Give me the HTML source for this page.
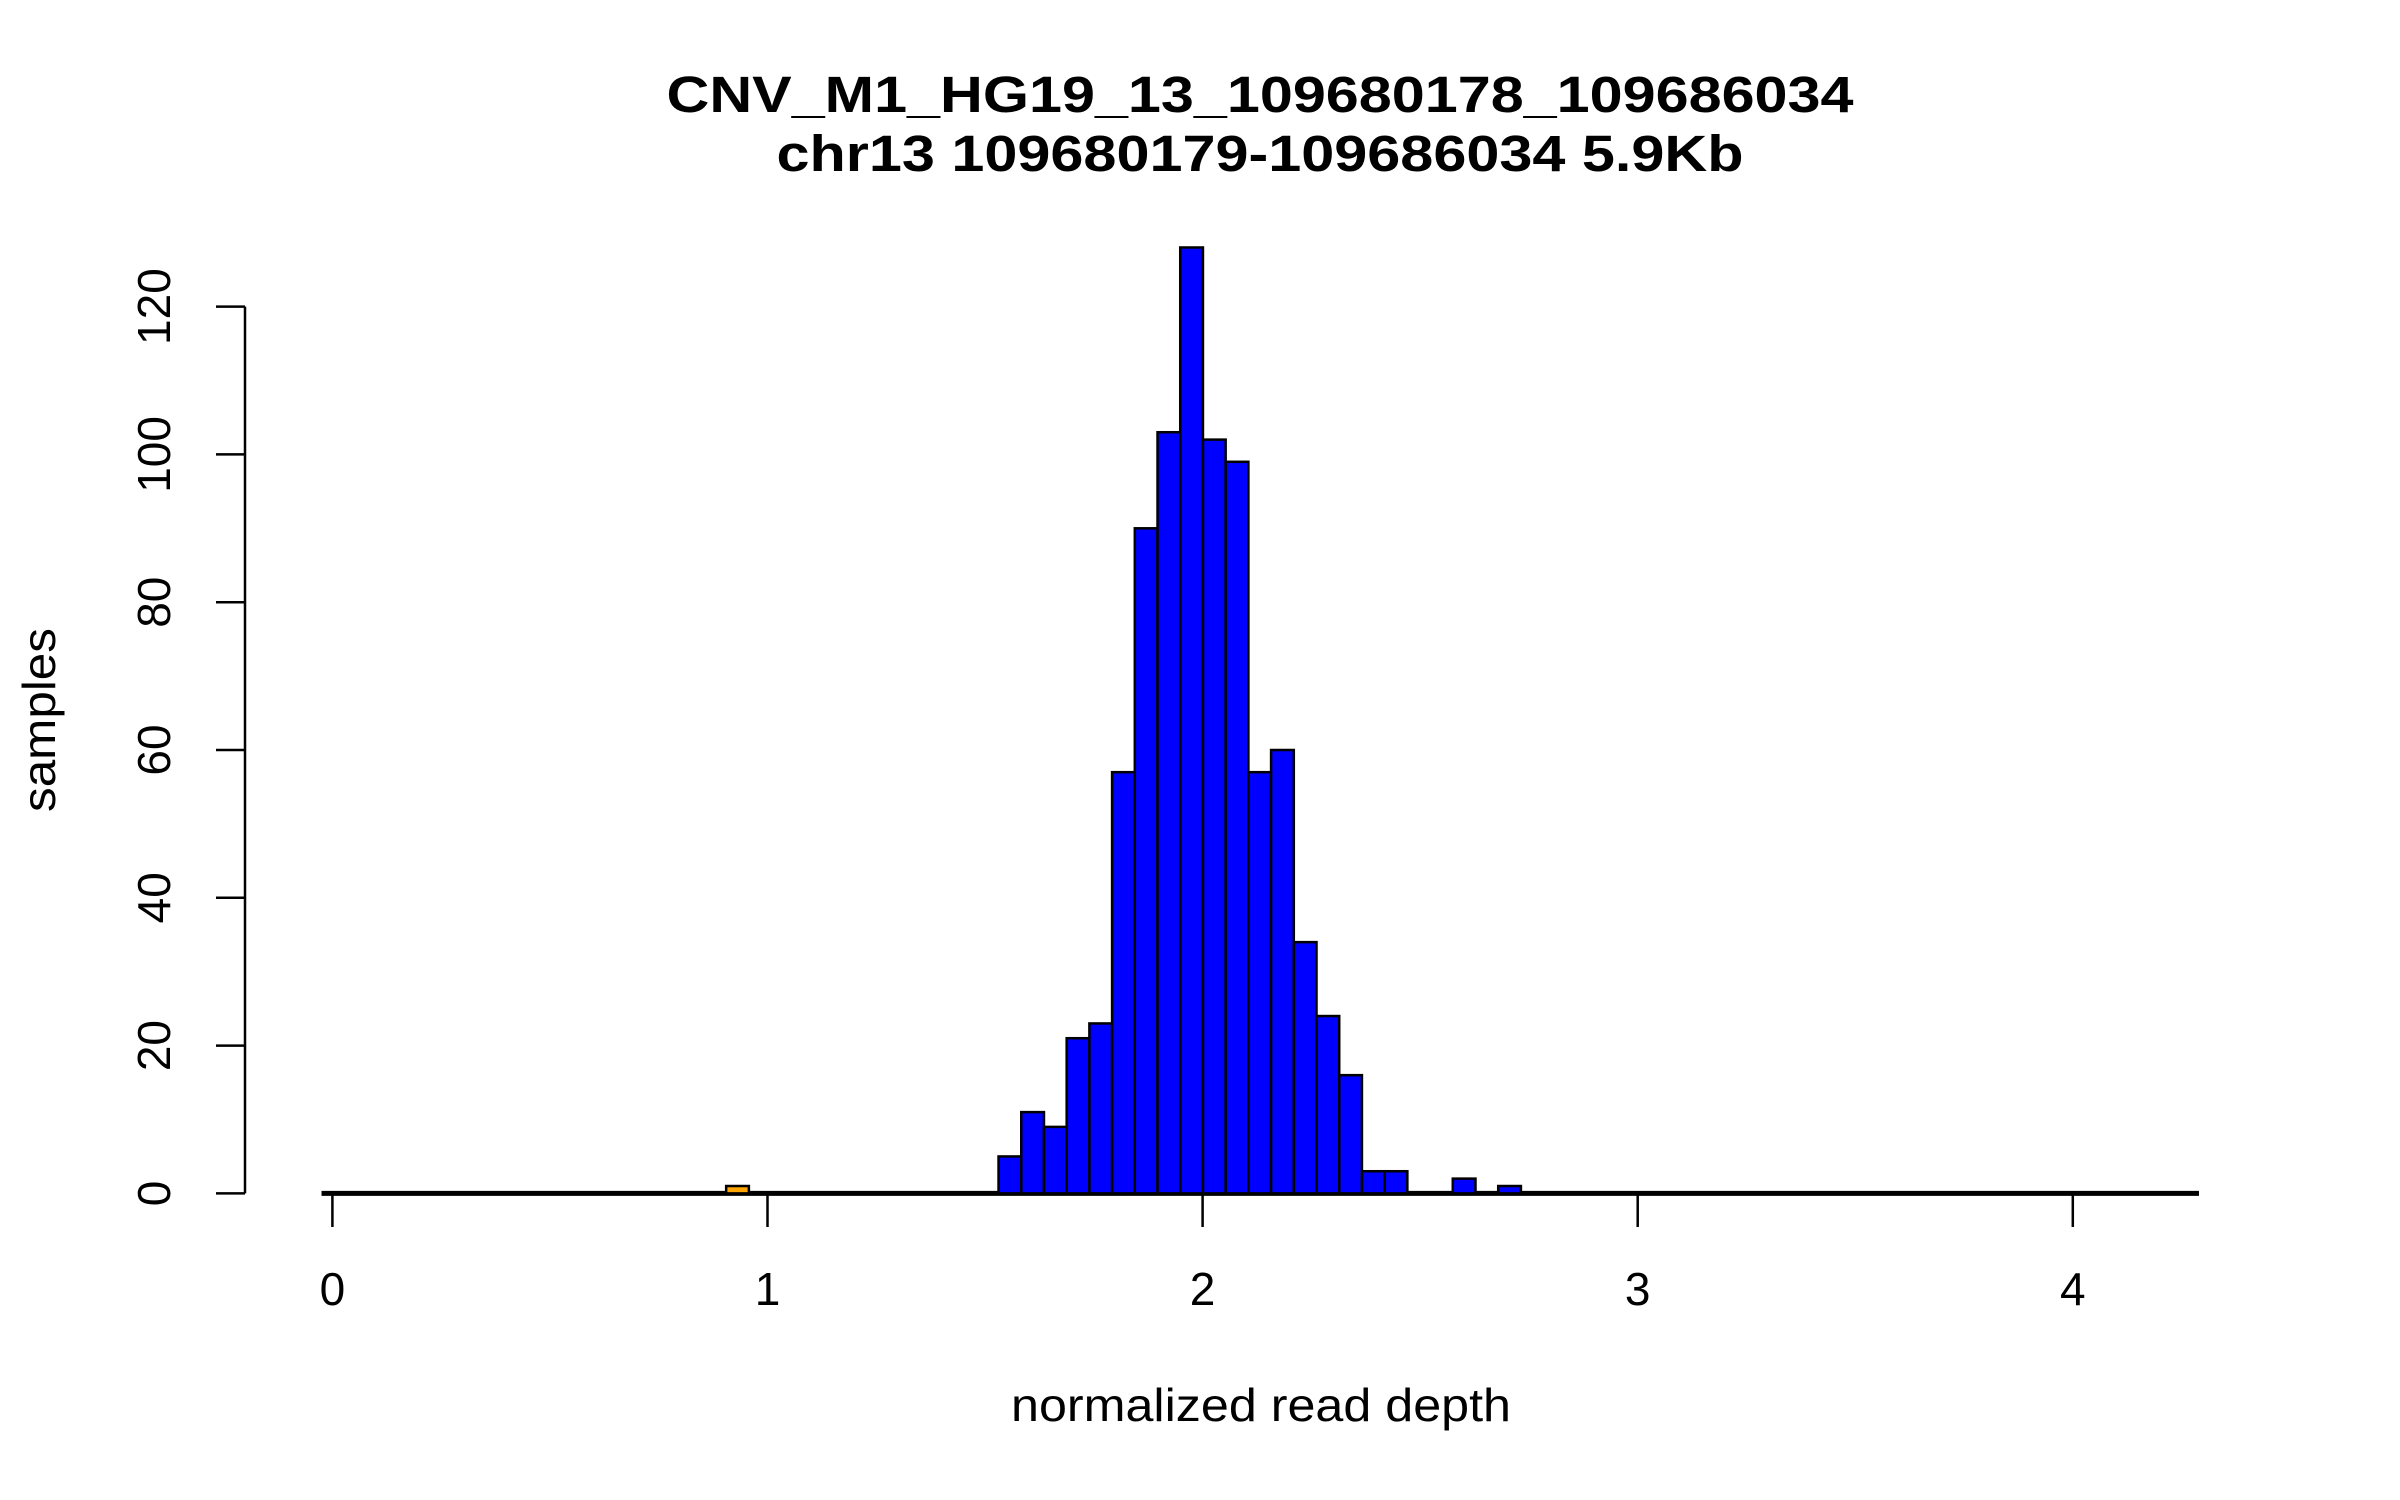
<!DOCTYPE html>
<html><head><meta charset="utf-8"><style>body{margin:0;background:#fff}svg{display:block}text{font-family:"Liberation Sans",sans-serif}</style></head>
<body>
<svg id="chart" width="2400" height="1500" viewBox="0 0 2400 1500">
<text x="1260" y="112" font-size="51" font-weight="bold" text-anchor="middle" textLength="1187" lengthAdjust="spacingAndGlyphs">CNV_M1_HG19_13_109680178_109686034</text>
<text x="1260" y="171" font-size="51" font-weight="bold" text-anchor="middle" textLength="967" lengthAdjust="spacingAndGlyphs">chr13 109680179-109686034 5.9Kb</text>
<text x="1261" y="1421" font-size="46" text-anchor="middle" textLength="500" lengthAdjust="spacingAndGlyphs">normalized read depth</text>
<text transform="translate(55,720) rotate(-90)" font-size="46" text-anchor="middle" textLength="184" lengthAdjust="spacingAndGlyphs">samples</text>
<g id="marks"></g>
</svg>
<script>
const binStart = 1.531;
const binWidth = 0.0522;
const counts = [5,11,9,21,23,57,90,103,128,102,99,57,60,34,24,16,3,3,0,0,2,0,1];
const lowBinStart = 0.905;
const lowCounts = [1];
const xTicks = [0,1,2,3,4];
const yTicks = [0,20,40,60,80,100,120];
const xRange = [-0.025, 4.29];

const X = v => 332.4 + v * 435.1;
const Y = v => 1193.4 - v * 7.39;
const NS = 'http://www.w3.org/2000/svg';
const g = document.getElementById('marks');
function mk(tag, attrs){const e=document.createElementNS(NS,tag);for(const k in attrs)e.setAttribute(k,attrs[k]);g.appendChild(e);return e;}

let bl = mk('line',{x1:X(xRange[0]),x2:X(xRange[1]),y1:Y(0),y2:Y(0),stroke:'#000','stroke-width':5});



counts.forEach((c,i)=>{
  if(c<=0) return;
  const x0=X(binStart+i*binWidth), x1=X(binStart+(i+1)*binWidth);
  const r=mk('rect',{x:x0,y:Y(c),width:x1-x0,height:Y(0)-Y(c),fill:'#0000ff',stroke:'#000','stroke-width':2.5});
  
  
});
lowCounts.forEach((c,i)=>{
  const x0=X(lowBinStart+i*binWidth), x1=X(lowBinStart+(i+1)*binWidth);
  const r=mk('rect',{x:x0,y:Y(c),width:x1-x0,height:Y(0)-Y(c),fill:'#ffa500',stroke:'#000','stroke-width':2.5});
  
  
});

let ya = mk('line',{x1:245,x2:245,y1:Y(yTicks[0]),y2:Y(yTicks[yTicks.length-1]),stroke:'#000','stroke-width':2.5});


yTicks.forEach(t=>{
  const tk=mk('line',{x1:216,x2:245,y1:Y(t),y2:Y(t),stroke:'#000','stroke-width':2.5});
  
  
  const tx=mk('text',{transform:`translate(170,${Y(t)}) rotate(-90)`,'font-size':46,'text-anchor':'middle'});
  tx.textContent=t;
  
  
});

xTicks.forEach(t=>{
  const tk=mk('line',{x1:X(t),x2:X(t),y1:Y(0),y2:1227,stroke:'#000','stroke-width':2.5});
  
  
  const tx=mk('text',{x:X(t),y:1305,'font-size':46,'text-anchor':'middle'});
  tx.textContent=t;
  
  
});
</script>
</body></html>
